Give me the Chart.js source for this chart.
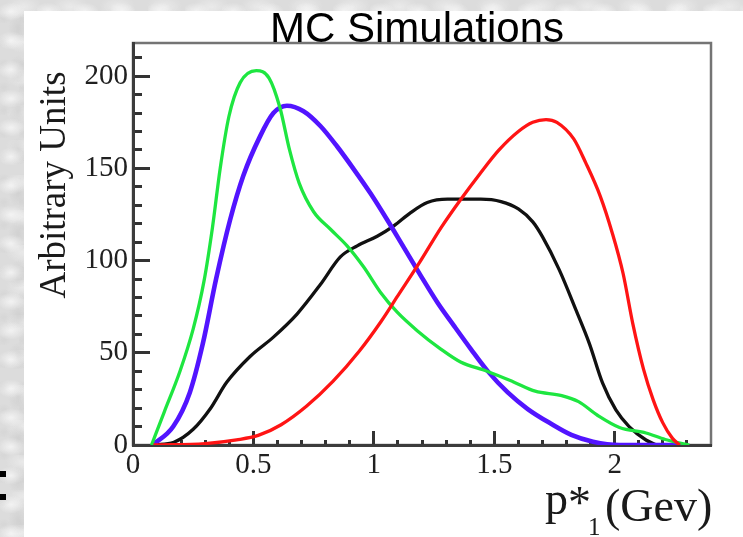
<!DOCTYPE html>
<html>
<head>
<meta charset="utf-8">
<script src="https://cdn.jsdelivr.net/npm/chart.js@4.4.1/dist/chart.umd.min.js"></script>
<style>
  html, body { margin: 0; padding: 0; }
  body {
    width: 743px; height: 537px; overflow: hidden; position: relative;
    background-color: #dcdcdc;
    background-image:
      radial-gradient(ellipse 14px 9px at 30% 40%, rgba(250,250,250,.75), transparent),
      radial-gradient(ellipse 10px 15px at 70% 70%, rgba(200,200,200,.55), transparent),
      radial-gradient(ellipse 18px 11px at 50% 20%, rgba(240,240,240,.7), transparent),
      radial-gradient(ellipse 7px 6px at 20% 80%, rgba(208,208,208,.5), transparent);
    background-size: 37px 29px, 26px 41px, 47px 35px, 19px 23px;
  }
  #sheet { position: absolute; left: 24px; top: 11px; right: 0; bottom: 0; background: #fff; }
  .bullet { position: absolute; left: 0; width: 6px; height: 6px; background: #000; }
  #wrap { position: absolute; left: 0; top: 0; width: 743px; height: 537px; }
</style>
</head>
<body>
<div id="sheet"></div>
<div class="bullet" style="top:471px"></div>
<div class="bullet" style="top:494px"></div>
<div id="wrap"><canvas id="myChart" width="743" height="537"></canvas></div>
<script>
// axis ticks (labelled majors; minors every 0.1 / 10)
const xTicks = [0, 0.5, 1, 1.5, 2];
const xTickLabels = ['0', '0.5', '1', '1.5', '2'];
const yTicks = [0, 50, 100, 150, 200];
const yTickLabels = ['0', '50', '100', '150', '200'];

// p*_1 spectra, one curve per sample
const redX   = [0.085, 0.3, 0.43, 0.52, 0.615, 0.72, 0.83, 0.94, 1.03, 1.1, 1.19, 1.28, 1.36, 1.44, 1.52, 1.6, 1.66, 1.715, 1.76, 1.83, 1.88, 1.94, 1.99, 2.035, 2.075, 2.12, 2.16, 2.2, 2.24, 2.27];
const redY   = [0, 0.8, 2.8, 5.2, 11, 21, 34.5, 51, 67, 81, 99, 118, 133, 147, 160, 170, 175, 176.5, 175, 166, 153, 135, 115, 93, 66, 41, 24.5, 12, 3.6, 0];

const greenX = [0.077, 0.13, 0.195, 0.25, 0.295, 0.33, 0.362, 0.398, 0.445, 0.512, 0.565, 0.61, 0.65, 0.69, 0.75, 0.82, 0.889, 0.958, 1.028, 1.097, 1.18, 1.278, 1.36, 1.47, 1.58, 1.67, 1.78, 1.85, 1.93, 2.02, 2.13, 2.21, 2.31];
const greenY = [0, 18, 40, 63, 89, 118, 150, 178, 196.5, 203, 199, 183, 160, 142, 126.5, 117, 108, 96.5, 82.7, 72, 62, 52, 45, 40, 34.2, 29.2, 26.8, 23.5, 16, 9.5, 6.5, 3, 0];

const blueX  = [0.082, 0.167, 0.236, 0.29, 0.345, 0.403, 0.458, 0.528, 0.583, 0.639, 0.708, 0.778, 0.847, 0.917, 0.986, 1.056, 1.125, 1.194, 1.264, 1.333, 1.403, 1.472, 1.556, 1.639, 1.736, 1.82, 1.91, 2.02, 2.28];
const blueY  = [0, 10, 28.5, 55, 90, 122, 146, 167.5, 180, 184, 181, 173, 162, 149.5, 136.5, 122, 107, 92, 77.3, 64.6, 52, 40.2, 28.5, 19.5, 11.5, 5.5, 1.8, 0, 0];

const blackX = [0.085, 0.17, 0.25, 0.32, 0.389, 0.486, 0.583, 0.681, 0.778, 0.861, 0.931, 1.014, 1.083, 1.153, 1.222, 1.306, 1.444, 1.528, 1.6, 1.66, 1.7, 1.77, 1.84, 1.895, 1.95, 2.005, 2.06, 2.13, 2.175];
const blackY = [0, 1.5, 8.5, 19.5, 34, 48, 58.5, 71, 87, 102, 108, 113.2, 118.8, 126, 131.5, 133.3, 133.3, 132, 128, 121, 113, 95, 73, 55, 33.5, 19, 10, 2.7, 0];

function pts(xs, ys) {
    return xs.map((x, i) => ({x: x, y: ys[i]}));
}

function labelFor(v, ticks, labels) {
    const k = ticks.findIndex(t => Math.abs(t - v) < 1e-6);
    return k < 0 ? '' : labels[k];
}

function isMajor(v, ticks) {
    return ticks.some(t => Math.abs(t - v) < 1e-6);
}

// grey frame round the plot; titles
const frame = {
    id: 'frame',
    beforeDraw(chart) {
        const {ctx, chartArea: a} = chart;
        ctx.save();
        ctx.strokeStyle = '#747474';
        ctx.lineWidth = 2.5;
        ctx.strokeRect(a.left, a.top, a.right - a.left, a.bottom - a.top);
        ctx.restore();
    },
    afterDraw(chart) {
        const {ctx, chartArea: a} = chart;
        ctx.save();
        ctx.fillStyle = '#000';
        ctx.textAlign = 'center';
        ctx.textBaseline = 'alphabetic';
        ctx.font = '42px "Liberation Sans", Arial, sans-serif';
        ctx.fillText('MC Simulations', (a.left + a.right) / 2 - 5, 42);

        ctx.fillStyle = '#1a1a1a';
        ctx.save();
        ctx.translate(65, 185);
        ctx.rotate(-Math.PI / 2);
        ctx.font = '37px "Liberation Serif", serif';
        ctx.fillText('Arbitrary Units', 0, 0);
        ctx.restore();

        ctx.textAlign = 'left';
        ctx.font = '46px "Liberation Serif", serif';
        ctx.fillText('p', 545, 514);
        ctx.fillText('*', 568, 518);
        ctx.fillText('(Gev)', 605, 521);
        ctx.font = '25px "Liberation Serif", serif';
        ctx.fillText('1', 588, 535);
        ctx.restore();
    }
};

const tickFont = {family: '"Liberation Serif", serif', size: 29, lineHeight: 1};

const config = {
    type: 'line',
    data: {
        datasets: [
            {data: pts(redX, redY),     borderColor: '#ff1414', borderWidth: 3.3},
            {data: pts(greenX, greenY), borderColor: '#1ee640', borderWidth: 3.3},
            {data: pts(blueX, blueY),   borderColor: '#5214ff', borderWidth: 4.6},
            {data: pts(blackX, blackY), borderColor: '#111111', borderWidth: 3.3}
        ]
    },
    options: {
        responsive: false,
        animation: false,
        devicePixelRatio: 1,
        layout: {padding: {left: 0, top: 43, right: 32, bottom: 0}},
        elements: {
            point: {radius: 0},
            line: {cubicInterpolationMode: 'monotone', fill: false}
        },
        plugins: {
            legend: {display: false},
            tooltip: {enabled: false},
            title: {display: false}
        },
        scales: {
            x: {
                type: 'linear',
                min: 0,
                max: 2.4,
                afterFit: s => { s.height = 92; },
                afterBuildTicks: s => {
                    const t = [];
                    for (let i = 0; i <= 23; i++) t.push({value: i / 10});
                    s.ticks = t;
                },
                // negative length puts the tick marks inside the frame
                grid: {
                    display: true,
                    drawOnChartArea: false,
                    drawTicks: true,
                    tickLength: -14,
                    tickWidth: 3,
                    tickColor: '#333333',
                    tickBorderDash: c => isMajor(c.tick.value, xTicks) ? [] : [7, 100]
                },
                border: {display: true, color: '#3c3c3c', width: 3},
                ticks: {
                    autoSkip: false,
                    maxRotation: 0,
                    padding: 20,
                    color: '#202020',
                    font: tickFont,
                    callback: v => labelFor(v, xTicks, xTickLabels)
                }
            },
            y: {
                type: 'linear',
                min: 0,
                max: 218,
                afterFit: s => { s.width = 133; },
                afterBuildTicks: s => {
                    const t = [];
                    for (let i = 0; i <= 21; i++) t.push({value: i * 10});
                    s.ticks = t;
                },
                grid: {
                    display: true,
                    drawOnChartArea: false,
                    drawTicks: true,
                    tickLength: -17,
                    tickWidth: 3,
                    tickColor: '#333333',
                    tickBorderDash: c => isMajor(c.tick.value, yTicks) ? [] : [0, 8, 9, 100]
                },
                border: {display: true, color: '#3c3c3c', width: 3},
                ticks: {
                    autoSkip: false,
                    padding: 22,
                    color: '#202020',
                    font: tickFont,
                    callback: v => labelFor(v, yTicks, yTickLabels)
                }
            }
        }
    },
    plugins: [frame]
};

new Chart(document.getElementById('myChart').getContext('2d'), config);
</script>
</body>
</html>
